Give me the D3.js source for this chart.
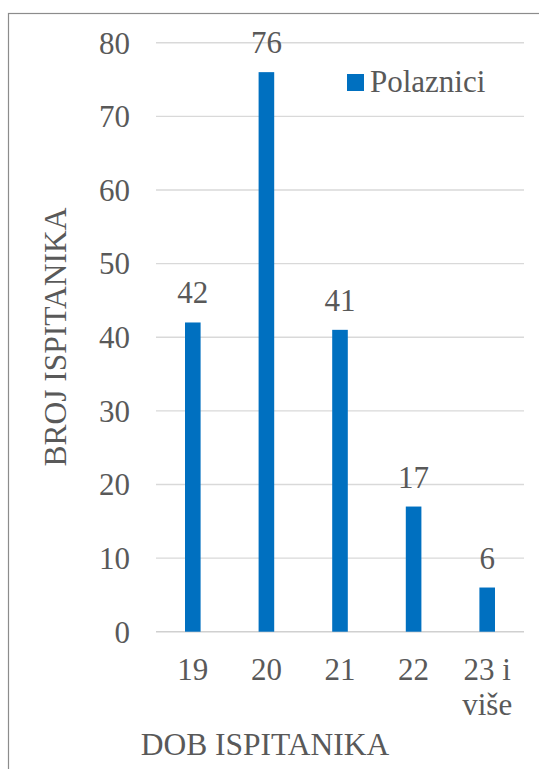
<!DOCTYPE html>
<html>
<head>
<meta charset="utf-8">
<script src="https://cdn.jsdelivr.net/npm/d3@7"></script>
<style>
  html, body { margin: 0; padding: 0; background: #fff; }
  svg { display: block; }
  svg text { font-family: "Liberation Serif", "Times New Roman", Tinos, serif; fill: #595959; }
</style>
</head>
<body>
<script>
const categories = ["19", "20", "21", "22", "23 i više"];
const values = [42, 76, 41, 17, 6];
const yTicks = [0, 10, 20, 30, 40, 50, 60, 70, 80];
const seriesName = "Polaznici";
const xTitle = "DOB ISPITANIKA";
const yTitle = "BROJ ISPITANIKA";

const W = 539, H = 769;
const svg = d3.select("body").append("svg").attr("width", W).attr("height", H)
  .style("font-family", "'Liberation Serif', 'Times New Roman', serif");

// outer frame (cropped on right and bottom)
svg.append("rect").attr("x", 8.5).attr("y", 13.5).attr("width", 700).attr("height", 900)
  .attr("fill", "#fff").attr("stroke", "#8c8c8c").attr("stroke-width", 1.2);

const x = d3.scaleBand().domain(categories).range([156, 524]).padding(0);
const y = d3.scaleLinear().domain([0, 80]).range([631.7, 42.7]);

// gridlines
svg.append("g").selectAll("line").data(yTicks).join("line")
  .attr("x1", 156).attr("x2", 524)
  .attr("y1", d => y(d)).attr("y2", d => y(d))
  .attr("stroke", d => d === 0 ? "#d0d0d0" : "#d9d9d9").attr("stroke-width", 1.4);

// y tick labels
svg.append("g").selectAll("text").data(yTicks).join("text")
  .attr("x", 130).attr("y", d => y(d)).attr("dy", "0.35em")
  .attr("text-anchor", "end").attr("font-size", 31).text(d => d);

// bars
const bw = x.bandwidth() * 0.212;
svg.append("g").selectAll("rect").data(values).join("rect")
  .attr("x", (d, i) => x(categories[i]) + x.bandwidth() / 2 - bw / 2)
  .attr("y", d => y(d))
  .attr("width", bw)
  .attr("height", d => y(0) - y(d))
  .attr("fill", "#0070C0");

// data labels
svg.append("g").selectAll("text").data(values).join("text")
  .attr("x", (d, i) => x(categories[i]) + x.bandwidth() / 2)
  .attr("y", d => y(d) - 19)
  .attr("text-anchor", "middle").attr("font-size", 31).text(d => d);

// x labels (with wrapping)
const xl = svg.append("g").selectAll("text").data(categories).join("text")
  .attr("x", d => x(d) + x.bandwidth() / 2)
  .attr("y", 680)
  .attr("text-anchor", "middle").attr("font-size", 31);
xl.each(function(d) {
  const parts = d === "23 i više" ? ["23 i", "više"] : [d];
  const t = d3.select(this);
  parts.forEach((p, k) => {
    t.append("tspan").attr("x", x(d) + x.bandwidth() / 2).attr("dy", k === 0 ? 0 : 35).text(p);
  });
});

// x title
svg.append("text").attr("x", 265).attr("y", 755).attr("text-anchor", "middle")
  .attr("font-size", 31.5).text(xTitle);

// y title
svg.append("text").attr("transform", "translate(66,337) rotate(-90)")
  .attr("text-anchor", "middle").attr("font-size", 31.5).text(yTitle);

// legend
svg.append("rect").attr("x", 347).attr("y", 74).attr("width", 17).attr("height", 17).attr("fill", "#0070C0");
svg.append("text").attr("x", 370).attr("y", 92).attr("font-size", 31).text(seriesName);
</script>
</body>
</html>
